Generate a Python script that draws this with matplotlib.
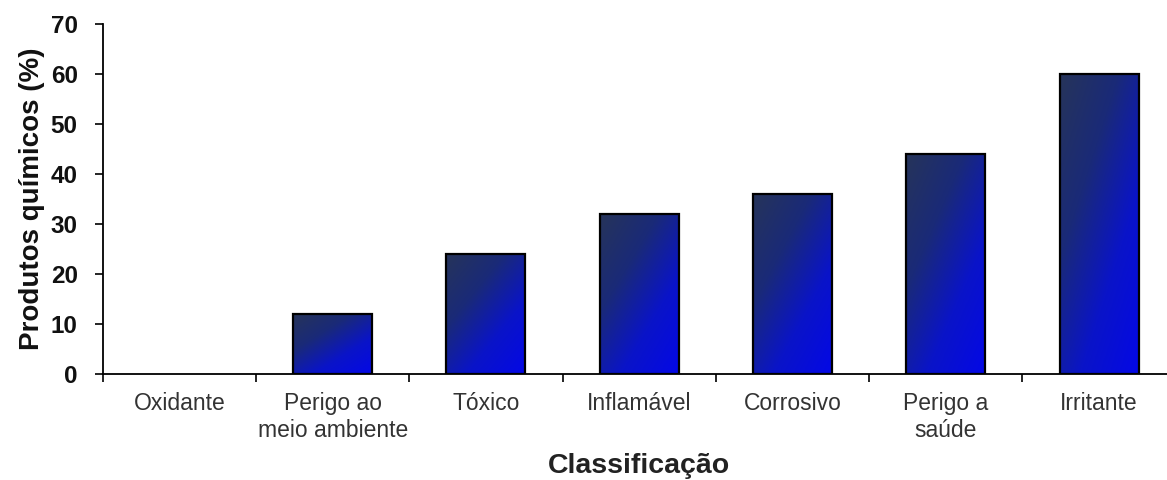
import numpy as np
import matplotlib
matplotlib.use("Agg")
import matplotlib.pyplot as plt
from matplotlib.colors import LinearSegmentedColormap

plt.rcParams['font.family'] = ['Liberation Sans', 'DejaVu Sans']

categories = ["Oxidante", "Perigo ao\nmeio ambiente", "Tóxico", "Inflamável",
              "Corrosivo", "Perigo a\nsaúde", "Irritante"]
values = [0, 12, 24, 32, 36, 44, 60]
y_ticks = [0, 10, 20, 30, 40, 50, 60, 70]

fig = plt.figure(figsize=(11.67, 4.8), dpi=100)
ax = fig.add_axes([0.088, 0.221, 0.9195, 0.729])

x = np.arange(len(categories))
bars = ax.bar(x, values, width=0.515, color='none', edgecolor='black',
              linewidth=1.6, zorder=3)

# diagonal gradient: dark slate at top-left to bright blue at bottom-right
cmap = LinearSegmentedColormap.from_list(
    "bar_grad", ["#26345a", "#1a2a78", "#0a14c8", "#0408e6"])
gx, gy = np.meshgrid(np.linspace(0, 1, 64), np.linspace(0, 1, 128))
shade = 1 - 0.55 * gy - 0.45 * (1 - gx)
for b in bars:
    h = b.get_height()
    if h <= 0:
        b.set_linewidth(0)
        continue
    x0, w = b.get_x(), b.get_width()
    im = ax.imshow(shade, extent=[x0, x0 + w, 0, h], origin='lower',
                   cmap=cmap, vmin=0, vmax=1, aspect='auto', zorder=2)
    im.set_clip_path(b)

ax.set_xlim(-0.5, 6.5)
ax.set_ylim(0, 70)
ax.set_yticks(y_ticks)
ax.set_yticklabels([str(t) for t in y_ticks], fontsize=17.5, fontweight='bold',
                   color='#111111')

ax.set_xticks(x)
ax.set_xticklabels(categories, fontsize=16.5, color='#333333')
ax.tick_params(axis='x', which='major', length=0, pad=13)
ax.set_xticks(np.arange(-0.5, 6.6, 1.0), minor=True)
ax.tick_params(axis='x', which='minor', length=6, width=1.2, direction='out')
ax.tick_params(axis='y', length=6, width=1.2, direction='out', pad=12)

for s in ['top', 'right']:
    ax.spines[s].set_visible(False)
for s in ['left', 'bottom']:
    ax.spines[s].set_linewidth(1.3)

ax.set_xlabel("Classificação", fontsize=20.5, fontweight='bold', labelpad=8,
              color='#222222')
ax.set_ylabel("Produtos químicos (%)", fontsize=20, fontweight='bold',
              labelpad=4, color='#111111')

fig.savefig("out.png", dpi=100)
